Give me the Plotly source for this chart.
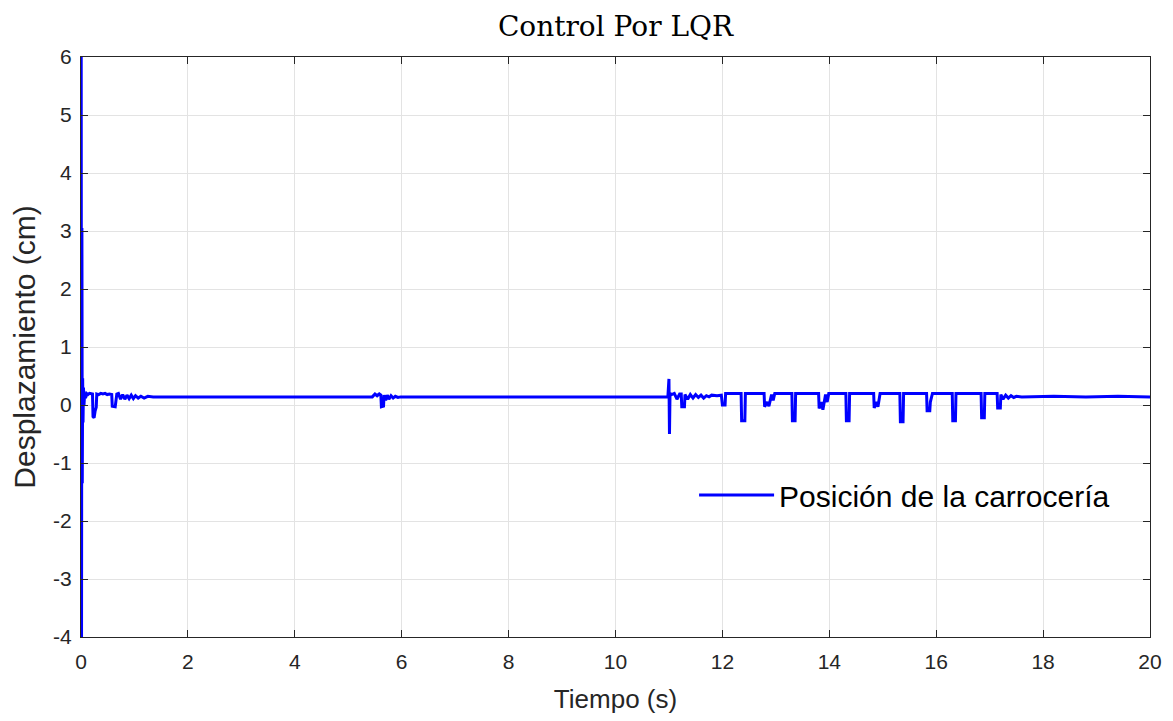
import plotly.graph_objects as go

# Tiempo (s) y desplazamiento (cm)
t_inicio = [0.000, 0.004, 0.010, 0.017, 0.024, 0.031, 0.038, 0.046, 0.056, 0.070,
            0.085, 0.105, 0.130, 0.160, 0.190, 0.215, 0.225, 0.245, 0.265, 0.285,
            0.295, 0.330, 0.370, 0.410, 0.450, 0.490, 0.530, 0.575, 0.585, 0.640,
            0.655, 0.670, 0.700, 0.740, 0.780, 0.820, 0.860, 0.900, 0.940, 0.980,
            1.020, 1.070, 1.120, 1.180, 1.250, 1.350]
y_inicio = [0.00, 6.00, -4.00, 3.05, -1.35, 0.46, -0.30, 0.30, 0.00, 0.22,
            0.12, 0.20, 0.18, 0.20, 0.20, 0.19, -0.20, -0.22, -0.10, -0.04,
            0.19, 0.18, 0.20, 0.19, 0.20, 0.18, 0.19, 0.18, -0.02, -0.03,
            0.08, 0.19, 0.20, 0.10, 0.18, 0.10, 0.17, 0.11, 0.17, 0.11,
            0.16, 0.12, 0.15, 0.12, 0.15, 0.14]

t_medio = [5.45, 5.50, 5.54, 5.58, 5.61, 5.62, 5.66, 5.67, 5.70, 5.73,
           5.76, 5.80, 5.84, 5.88, 5.93, 5.98, 6.05, 10.98]
y_medio = [0.14, 0.19, 0.16, 0.19, 0.17, -0.03, -0.02, 0.17, 0.08, 0.17,
           0.10, 0.16, 0.12, 0.15, 0.13, 0.14, 0.14, 0.14]

t_final = [11.00, 11.01, 11.02, 11.05, 11.10, 11.15, 11.20, 11.23, 11.24, 11.29,
           11.30, 11.35, 11.40, 11.45, 11.50, 11.55, 11.60, 11.65, 11.70, 11.75,
           11.80, 11.90, 11.98, 12.00, 12.05, 12.06,
           12.35, 12.36, 12.42, 12.43,
           12.78, 12.79, 12.84, 12.87, 12.92, 12.95, 12.98,
           13.30, 13.31, 13.36, 13.37,
           13.80, 13.81, 13.85, 13.88, 13.93, 13.96, 13.99,
           14.31, 14.32, 14.37, 14.38,
           14.83, 14.84, 14.88, 14.91, 14.95,
           15.32, 15.33, 15.38, 15.39,
           15.82, 15.83, 15.88, 15.89, 15.93,
           16.30, 16.31, 16.36, 16.37,
           16.84, 16.85, 16.90, 16.91,
           17.14, 17.15, 17.20, 17.21, 17.25, 17.30, 17.35, 17.40, 17.45, 17.50,
           17.60, 18.20, 18.80, 19.40, 20.00]
y_final = [0.45, -0.50, 0.20, 0.18, 0.20, 0.10, 0.19, 0.19, -0.03, -0.03,
           0.18, 0.10, 0.18, 0.12, 0.18, 0.13, 0.17, 0.12, 0.16, 0.14,
           0.17, 0.16, 0.17, 0.00, 0.00, 0.20,
           0.20, -0.27, -0.27, 0.20,
           0.20, -0.03, 0.05, -0.02, 0.18, 0.08, 0.20,
           0.20, -0.27, -0.27, 0.20,
           0.20, -0.06, 0.05, -0.08, 0.18, 0.05, 0.20,
           0.20, -0.27, -0.27, 0.20,
           0.20, -0.05, 0.05, -0.03, 0.20,
           0.20, -0.29, -0.29, 0.20,
           0.20, -0.10, -0.10, 0.05, 0.20,
           0.20, -0.27, -0.27, 0.20,
           0.20, -0.22, -0.22, 0.20,
           0.20, -0.05, -0.05, 0.18, 0.10, 0.17, 0.12, 0.16, 0.13, 0.15,
           0.14, 0.15, 0.14, 0.15, 0.14]

tiempo = t_inicio + t_medio + t_final
posicion = y_inicio + y_medio + y_final

x_ticks = [0, 2, 4, 6, 8, 10, 12, 14, 16, 18, 20]
y_ticks = [-4, -3, -2, -1, 0, 1, 2, 3, 4, 5, 6]
y_labels = ["-4", "-3", "-2", "-1", "0", "1", "2", "3", "4", "5", "6"]

fuente = "Liberation Sans, Arial"
gris = "#262626"

fig = go.Figure()
fig.add_trace(go.Scatter(
    x=tiempo, y=posicion, mode="lines",
    name="Posición de la carrocería",
    line=dict(color="#0000ff", width=3),
))

eje = dict(
    showgrid=True, gridcolor="#e3e3e3", gridwidth=1,
    showline=True, linecolor=gris, linewidth=1, mirror="ticks",
    ticks="inside", ticklen=7, tickcolor=gris,
    zeroline=False,
    tickfont=dict(family=fuente, size=21, color=gris),
)

fig.update_layout(
    width=1165, height=713,
    paper_bgcolor="white", plot_bgcolor="white",
    margin=dict(l=73, r=23, t=49, b=84),
    title=dict(text="Control Por LQR", xref="paper", x=0.5, xanchor="center",
               yref="paper", y=1, yanchor="bottom", pad=dict(b=21),
               font=dict(family="DejaVu Serif", size=28, color="#000000")),
    xaxis=dict(eje, range=[0, 20], tickvals=x_ticks, ticklabelstandoff=6,
               title=dict(text="Tiempo (s)", standoff=17,
                          font=dict(family=fuente, size=26, color=gris))),
    yaxis=dict(eje, range=[-4, 6], tickvals=y_ticks, ticktext=y_labels,
               ticklabelstandoff=4,
               title=dict(text="Desplazamiento (cm)", standoff=8,
                          font=dict(family=fuente, size=30, color=gris))),
    showlegend=True,
    legend=dict(x=0.5735, y=0.245, xanchor="left", yanchor="middle",
                bgcolor="rgba(255,255,255,0)", borderwidth=0, itemwidth=75,
                font=dict(family=fuente, size=30, color="#000000")),
)

fig.write_html("out.html")
